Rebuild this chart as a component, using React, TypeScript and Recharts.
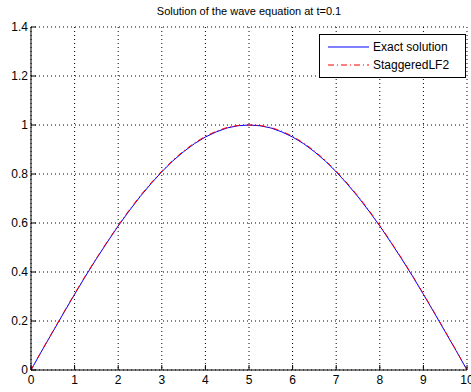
import React from 'react';
import { LineChart, Line, XAxis, YAxis, CartesianGrid } from 'recharts';

// values
const xValues = [
  0, 0.25, 0.5, 0.75, 1, 1.25, 1.5, 1.75, 2, 2.25, 2.5, 2.75, 3, 3.25, 3.5, 3.75, 4, 4.25, 4.5, 4.75, 5,
  5.25, 5.5, 5.75, 6, 6.25, 6.5, 6.75, 7, 7.25, 7.5, 7.75, 8, 8.25, 8.5, 8.75, 9, 9.25, 9.5, 9.75, 10,
];
const exactValues = [
  0, 0.079, 0.156, 0.233, 0.309, 0.383, 0.454, 0.522, 0.588, 0.649, 0.707, 0.760, 0.809, 0.853, 0.891, 0.924, 0.951, 0.972, 0.988, 0.997, 1.0,
  0.997, 0.988, 0.972, 0.951, 0.924, 0.891, 0.853, 0.809, 0.760, 0.707, 0.649, 0.588, 0.522, 0.454, 0.383, 0.309, 0.233, 0.156, 0.079, 0,
];
const staggeredValues = [
  0, 0.080, 0.158, 0.235, 0.311, 0.385, 0.456, 0.524, 0.590, 0.652, 0.710, 0.763, 0.812, 0.856, 0.894, 0.927, 0.954, 0.975, 0.990, 0.998, 1.0,
  0.998, 0.990, 0.975, 0.954, 0.927, 0.894, 0.856, 0.812, 0.763, 0.710, 0.652, 0.590, 0.524, 0.456, 0.385, 0.311, 0.235, 0.158, 0.080, 0,
];
const xTicks = [0, 1, 2, 3, 4, 5, 6, 7, 8, 9, 10];
const yTicks = [0, 0.2, 0.4, 0.6, 0.8, 1, 1.2, 1.4];

const data = xValues.map((x, i) => ({
  x,
  exact: exactValues[i],
  staggered: staggeredValues[i],
}));

const font = 'Liberation Sans, Arial, sans-serif';

const BottomTick = (props: any) => {
  const { x, y, payload } = props;
  return (
    <g>
      <line x1={x} y1={y} x2={x} y2={y - 5} stroke="#000" />
      <text x={x} y={y + 14} textAnchor="middle" fontSize={12} fontFamily={font} fill="#000">
        {payload.value}
      </text>
    </g>
  );
};

const TopTick = (props: any) => {
  const { x, y } = props;
  return <line x1={x} y1={y} x2={x} y2={y + 5} stroke="#000" />;
};

const LeftTick = (props: any) => {
  const { x, y, payload } = props;
  return (
    <g>
      <line x1={x} y1={y} x2={x + 5} y2={y} stroke="#000" />
      <text x={x - 3} y={y + 4} textAnchor="end" fontSize={12} fontFamily={font} fill="#000">
        {payload.value}
      </text>
    </g>
  );
};

const RightTick = (props: any) => {
  const { x, y } = props;
  return <line x1={x} y1={y} x2={x - 5} y2={y} stroke="#000" />;
};

const legendItems = [
  { label: 'Exact solution', color: '#0000ff', dash: undefined },
  { label: 'StaggeredLF2', color: '#ff0000', dash: '6 3 1 3' },
];

const LegendBox = () => (
  <div
    style={{
      position: 'absolute',
      top: 34,
      left: 319,
      border: '1px solid #000',
      background: '#fff',
      fontFamily: font,
      fontSize: 12,
      padding: '3px 0',
      width: 147,
      boxSizing: 'border-box',
    }}
  >
    {legendItems.map(item => (
      <div key={item.label} style={{ display: 'flex', alignItems: 'center', height: 18 }}>
        <svg width={52} height={10} style={{ marginLeft: 8 }}>
          <line x1={0} y1={5} x2={41} y2={5} stroke={item.color} strokeDasharray={item.dash} />
        </svg>
        <span style={{ marginLeft: -7 }}>{item.label}</span>
      </div>
    ))}
  </div>
);

export default function App() {
  return (
    <div style={{ position: 'absolute', left: 0, top: 0, width: 471, height: 392, background: '#fff' }}>
      <div
        style={{
          position: 'absolute',
          left: 31,
          width: 436,
          top: 5,
          textAlign: 'center',
          fontFamily: font,
          fontSize: 11,
        }}
      >
        Solution of the wave equation at t=0.1
      </div>
      <LineChart width={471} height={392} data={data} margin={{ top: 27, right: 4, left: 0, bottom: 0 }}>
        <CartesianGrid xAxisId="bottom" yAxisId="left" stroke="#000" strokeDasharray="1 3" />
        <XAxis
          xAxisId="bottom"
          dataKey="x"
          type="number"
          domain={[0, 10]}
          ticks={xTicks}
          height={22}
          tickSize={0}
          tickMargin={0}
          tickLine={false}
          tick={<BottomTick />}
          axisLine={{ stroke: '#000' }}
          interval={0}
        />
        <XAxis
          xAxisId="top"
          orientation="top"
          dataKey="x"
          type="number"
          domain={[0, 10]}
          ticks={xTicks}
          height={0}
          tickSize={0}
          tickMargin={0}
          tickLine={false}
          tick={<TopTick />}
          axisLine={{ stroke: '#000' }}
          interval={0}
        />
        <YAxis
          yAxisId="left"
          type="number"
          domain={[0, 1.4]}
          ticks={yTicks}
          width={31}
          tickSize={0}
          tickMargin={0}
          tickLine={false}
          tick={<LeftTick />}
          axisLine={{ stroke: '#000' }}
          interval={0}
        />
        <YAxis
          yAxisId="right"
          orientation="right"
          type="number"
          domain={[0, 1.4]}
          ticks={yTicks}
          width={0}
          tickSize={0}
          tickMargin={0}
          tickLine={false}
          tick={<RightTick />}
          axisLine={{ stroke: '#000' }}
          interval={0}
        />
        <Line
          xAxisId="bottom"
          yAxisId="left"
          type="linear"
          dataKey="exact"
          name="Exact solution"
          stroke="#0000ff"
          strokeWidth={1}
          dot={false}
          isAnimationActive={false}
        />
        <Line
          xAxisId="bottom"
          yAxisId="left"
          type="linear"
          dataKey="staggered"
          name="StaggeredLF2"
          stroke="#ff0000"
          strokeWidth={1}
          strokeDasharray="6 3 1 3"
          dot={false}
          isAnimationActive={false}
        />
      </LineChart>
      <LegendBox />
    </div>
  );
}
